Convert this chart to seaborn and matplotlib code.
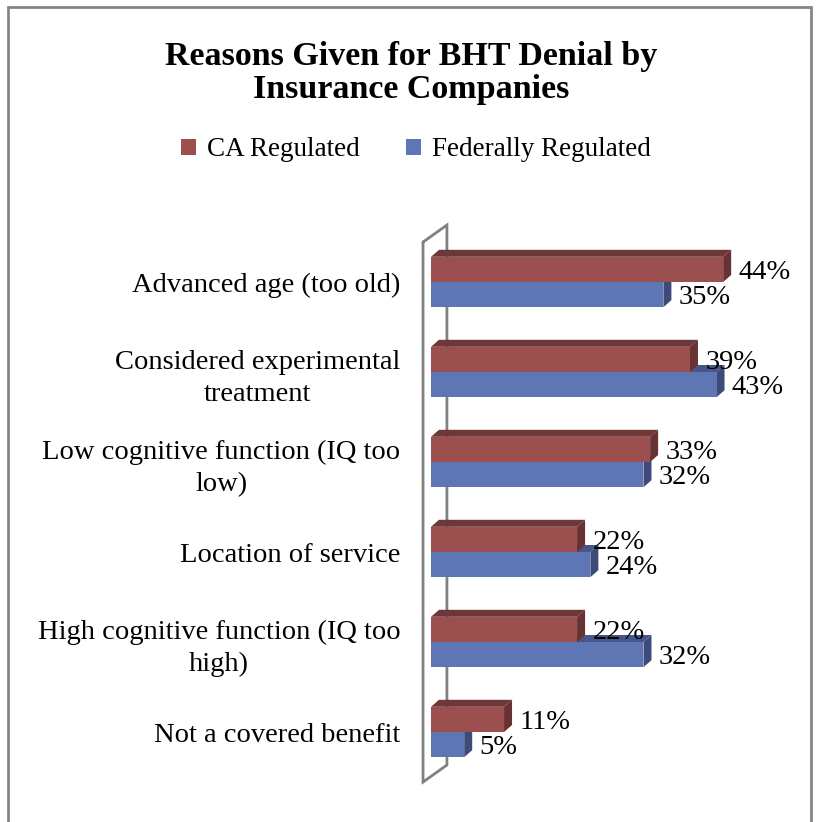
import numpy as np
import pandas as pd
import matplotlib
matplotlib.use("Agg")
import matplotlib.pyplot as plt
import seaborn as sns
from matplotlib.patches import Polygon, Rectangle

# data
reasons = [
    "Advanced age (too old)",
    "Considered experimental\ntreatment",
    "Low cognitive function (IQ too\nlow)",
    "Location of service",
    "High cognitive function (IQ too\nhigh)",
    "Not a covered benefit",
]
ca_regulated = [44, 39, 33, 22, 22, 11]
fed_regulated = [35, 43, 32, 24, 32, 5]
series_names = ["CA Regulated", "Federally Regulated"]

sns.set_theme(style="white")
plt.rcParams['font.family'] = ['Liberation Serif', 'DejaVu Serif']
plt.rcParams['text.color'] = 'black'
plt.rcParams['ytick.color'] = 'black'

colors = {
    'front': ['#9C4F4F', '#5F76B5'],
    'top': ['#6E3838', '#46568A'],
    'side': ['#683232', '#3D4B7A'],
}

df = pd.DataFrame({
    'reason': reasons * 2,
    'pct': ca_regulated + fed_regulated,
    'series': [series_names[0]] * len(reasons) + [series_names[1]] * len(reasons),
})

W, H = 818, 822
fig = plt.figure(figsize=(W / 100, H / 100), dpi=100)
ax = fig.add_axes([431 / W, 45 / H, 379 / W, 540 / H])

sns.barplot(data=df, y='reason', x='pct', hue='series', orient='h',
            width=0.56, palette=colors['front'], saturation=1, ax=ax,
            zorder=2, linewidth=0, edgecolor='none')

px_per_pct = 6.64
ax.set_xlim(0, 379 / px_per_pct)
ax.set_ylim(5.5, -0.5)

# 3D depth faces
DX = 8 / px_per_pct
DY = -7 / 90
fs = 20.5
for i, (cont, vals) in enumerate(zip(ax.containers, [ca_regulated, fed_regulated])):
    z = 1.4 - i * 0.2
    for bar, v in zip(cont, vals):
        x0, y0 = bar.get_x(), bar.get_y()
        w, h = bar.get_width(), bar.get_height()
        top = Polygon([(x0, y0), (x0 + DX, y0 + DY), (x0 + w + DX, y0 + DY), (x0 + w, y0)],
                      closed=True, facecolor=colors['top'][i], edgecolor='none',
                      zorder=z)
        side = Polygon([(x0 + w, y0), (x0 + w + DX, y0 + DY),
                        (x0 + w + DX, y0 + h + DY), (x0 + w, y0 + h)],
                       closed=True, facecolor=colors['side'][i], edgecolor='none',
                       zorder=z)
        ax.add_patch(top)
        ax.add_patch(side)
        ax.text(x0 + w + DX + 1.1, y0 + h / 2 + 0.03, f"{v}%", ha='left', va='center',
                fontsize=fs, color='black', zorder=5)

# back wall of the 3D plot area
ylo, yhi = -0.5, 5.5
fx, bx = -1.2, 2.4
wall_x = [fx, fx, bx, bx, fx]
wall_y = [ylo + 0.056, yhi + 0.056, yhi - 0.133, ylo - 0.133, ylo + 0.056]
ax.plot(wall_x, wall_y, color='#808080', lw=2, clip_on=False, zorder=0.3,
        solid_joinstyle='miter')

for s in ax.spines.values():
    s.set_visible(False)
ax.set_xticks([])
ax.set_xlabel('')
ax.set_ylabel('')
ax.tick_params(axis='y', length=0, pad=22, labelsize=fs, labelcolor='black')
for t in ax.get_yticklabels():
    t.set_multialignment('center')
    t.set_linespacing(1.35)

handles, labels = ax.get_legend_handles_labels()
ax.legend_.remove()
fig.legend(handles, labels, loc='center', bbox_to_anchor=(416 / W, 1 - 150 / H),
           ncol=2, frameon=False, fontsize=19.5, handlelength=0.55, handleheight=0.55,
           handletextpad=0.4, columnspacing=1.7)

fig.text(411 / W, 1 - 73 / H, "Reasons Given for BHT Denial by\nInsurance Companies",
         ha='center', va='center', fontsize=24.5, fontweight='bold', linespacing=1.1,
         color='black')

# chart border
fig.add_artist(Rectangle((7.5 / W, -0.05), (811 - 7.5) / W, 1.05 - 7.5 / H,
                         transform=fig.transFigure, fill=False,
                         edgecolor='#868686', lw=2))

fig.savefig('out.png', dpi=100)
